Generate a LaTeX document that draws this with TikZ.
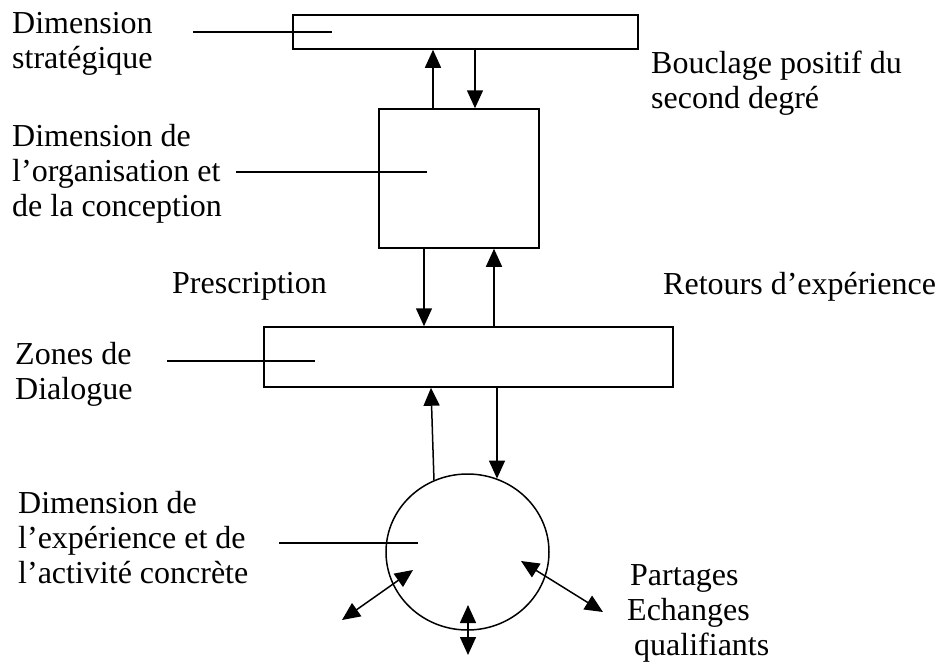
\documentclass[tikz,border=0pt]{standalone}
\usepackage{fontspec}
\setmainfont{Liberation Serif}
\usetikzlibrary{arrows.meta,shapes.geometric}
\tikzset{
  boite/.style={draw,line width=1.5pt,inner sep=0pt},
  etiquette/.style={anchor=north west,inner sep=0pt,align=left,font=\fontsize{32}{35}\selectfont},
  trait/.style={line width=1.5pt},
  fleche/.style={line width=1.5pt,-{Triangle[length=18pt,width=16pt]}},
  deuxsens/.style={line width=1.5pt,{Triangle[length=18pt,width=16pt]}-{Triangle[length=18pt,width=16pt]}}
}
\begin{document}
\begin{tikzpicture}[x=1pt,y=-1pt]
      \useasboundingbox (0,0) rectangle (940,664);
      \node[boite,minimum width=345pt,minimum height=34pt] (strat) at (465.5,32) {};
      \node[boite,minimum width=160pt,minimum height=139pt] (orga) at (459,178.5) {};
      \node[boite,minimum width=409pt,minimum height=60pt] (zones) at (468.5,357) {};
      \node[boite,ellipse,minimum width=163pt,minimum height=156pt] (exp) at (467.5,552) {};
      \node[etiquette] (lstrat) at (12,12) {Dimension\\stratégique};
      \node[etiquette] (lorga) at (12,124) {Dimension de\\l’organisation et\\de la conception};
      \node[etiquette] (lboucl) at (651,51) {Bouclage positif du\\second degré};
      \node[etiquette] (lpresc) at (172,272) {Prescription};
      \node[etiquette] (lretour) at (663,272) {Retours d’expérience};
      \node[etiquette] (lzones) at (15,342) {Zones de\\Dialogue};
      \node[etiquette] (lexp) at (18,491) {Dimension de\\l’expérience et de\\l’activité concrète};
      \node[etiquette] (lpart) at (627,564) {\hspace*{3pt}Partages\\Echanges\\\hspace*{7pt}qualifiants};
      \coordinate (a1) at (193,32);   \coordinate (b1) at (332,32);
      \coordinate (a2) at (236,172);  \coordinate (b2) at (427,172);
      \coordinate (a3) at (167,361);  \coordinate (b3) at (315,361);
      \coordinate (a4) at (279,543);  \coordinate (b4) at (418,543);
      \coordinate (g1) at (342,620);  \coordinate (g2) at (413,570);
      \coordinate (m1) at (468,605);  \coordinate (m2) at (468,655);
      \coordinate (d1) at (521,561);  \coordinate (d2) at (603,612);
      \begin{scope}[trait]
        \draw (a1) -- (b1);
        \draw (a2) -- (b2);
        \draw (a3) -- (b3);
        \draw (a4) -- (b4);
      \end{scope}
      \begin{scope}[fleche]
        \draw (433,0 |- orga.north) -- (433,0 |- strat.south);
        \draw (475,0 |- strat.south) -- (475,0 |- orga.north);
        \draw (424,0 |- orga.south) -- (424,0 |- zones.north);
        \draw (494,0 |- zones.north) -- (494,0 |- orga.south);
        \draw (exp.115) -- (431,0 |- zones.south);
        \draw (497,0 |- zones.south) -- (497,0 |- exp.68);
      \end{scope}
      \begin{scope}[deuxsens]
        \draw (g1) -- (g2);
        \draw (m1) -- (m2);
        \draw (d1) -- (d2);
      \end{scope}
    \end{tikzpicture}
\end{document}
